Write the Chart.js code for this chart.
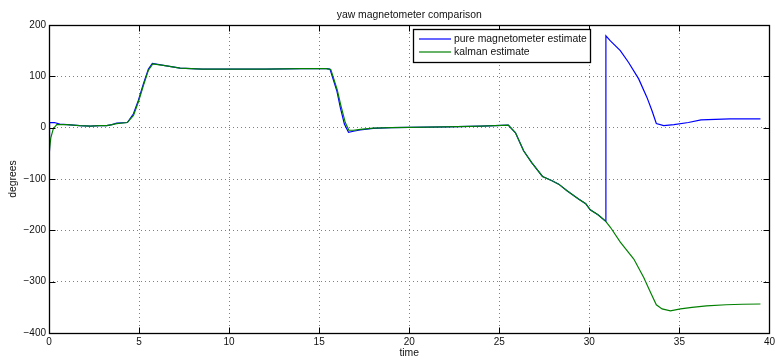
<!DOCTYPE html>
<html>
<head>
<meta charset="utf-8">
<script src="https://cdn.jsdelivr.net/npm/chart.js@4/dist/chart.umd.min.js"></script>
<style>
  html, body { margin: 0; padding: 0; background: #fff; }
  canvas { display: block; }
</style>
</head>
<body>
<canvas id="c" width="778" height="364"></canvas>
<script>
// Yaw heading from the raw magnetometer (wraps at 180) versus the Kalman filter output
const magTime = [0, 0.03, 0.3, 0.6, 1.0, 1.7, 2.3, 2.8, 3.2, 3.5, 3.76, 4.35, 4.69, 4.96, 5.24, 5.52, 5.74, 6.44, 7.28, 8.5, 10, 12, 14, 15.4, 15.6, 15.98, 16.17, 16.4, 16.63, 16.9, 17.28, 18.0, 19.0, 20.0, 22.0, 24.0, 25.5, 25.9, 26.35, 26.8, 27.4, 27.9, 28.3, 28.76, 29.4, 29.8, 30.05, 30.5, 30.9, 30.92, 31.17, 31.72, 32.18, 32.74, 33.2, 33.48, 33.72, 34.13, 34.7, 35.5, 36.2, 37.0, 37.8, 38.5, 39.5];
const magYaw  = [-45, 10, 10, 7, 6, 4, 3, 4, 4, 6, 9, 10, 27, 53, 85, 114, 125, 121, 116, 114, 114, 114, 115, 115, 114, 72, 40, 7, -9, -7, -4.5, -1.5, 0, 0.5, 1.5, 3, 5, -10, -45, -68, -95, -103, -110, -123, -139, -148, -160, -170, -182, 179, 169, 150, 127, 95, 59, 33, 8, 4, 6, 10, 15, 16, 17, 17, 17];

const kalmanTime = [0, 0.1, 0.24, 0.43, 1.0, 1.7, 2.3, 2.8, 3.2, 3.5, 3.76, 4.35, 4.69, 4.96, 5.24, 5.52, 5.76, 6.44, 7.28, 8.5, 10, 12, 14, 15.4, 15.65, 16.0, 16.2, 16.45, 16.65, 16.9, 17.28, 18.0, 19.0, 20.0, 22.0, 24.0, 25.5, 25.9, 26.35, 26.8, 27.4, 27.9, 28.3, 28.76, 29.4, 29.8, 30.05, 30.5, 30.9, 31.17, 31.72, 32.47, 33.02, 33.4, 33.72, 34.04, 34.5, 35.06, 35.7, 36.5, 37.6, 38.5, 39.5];
const kalmanYaw  = [-51, -20, -2, 6, 6, 4, 3, 4, 4, 6, 8, 10, 24, 50, 82, 112, 124, 121, 116, 114, 114, 114, 115, 115, 113, 74, 44, 10, -5, -5, -3.5, -1, 0, 0.5, 1.5, 3, 5, -10, -45, -68, -95, -103, -110, -123, -139, -148, -160, -170, -182, -194, -223, -256, -292, -321, -345, -353, -357, -353, -350, -347, -345, -344, -343.5];

const seriesNames = ['pure magnetometer estimate', 'kalman estimate'];
const xTicks = [0, 5, 10, 15, 20, 25, 30, 35, 40];
const yTicks = [-400, -300, -200, -100, 0, 100, 200];

const chartTitle = 'yaw magnetometer comparison';
const xTitle = 'time';
const yTitle = 'degrees';

const FONT = '"Liberation Sans", Arial, Helvetica, sans-serif';
const BLUE = '#0000ff';
const GREEN = '#008000';

const toPoints = (xs, ys) => xs.map((x, i) => ({ x: x, y: ys[i] }));

// Frame, inward ticks, title, axis titles and the boxed legend
const matlabAxes = {
  id: 'matlabAxes',
  afterDraw(chart) {
    const { ctx, chartArea: a, scales } = chart;
    const xs = scales.x, ys = scales.y;
    const L = Math.round(a.left) + 0.5, R = Math.round(a.right) + 0.5;
    const T = Math.round(a.top) + 0.5, B = Math.round(a.bottom) + 0.5;
    const tl = 6;
    ctx.save();
    ctx.strokeStyle = '#000';
    ctx.lineWidth = 1;
    ctx.beginPath();
    xTicks.forEach(v => {
      const px = Math.round(xs.getPixelForValue(v)) + 0.5;
      ctx.moveTo(px, B); ctx.lineTo(px, B - tl);
      ctx.moveTo(px, T); ctx.lineTo(px, T + tl);
    });
    yTicks.forEach(v => {
      const py = Math.round(ys.getPixelForValue(v)) + 0.5;
      ctx.moveTo(L, py); ctx.lineTo(L + tl, py);
      ctx.moveTo(R, py); ctx.lineTo(R - tl, py);
    });
    ctx.stroke();
    ctx.lineWidth = 1.3;
    ctx.strokeRect(L, T, R - L, B - T);
    ctx.lineWidth = 1;

    ctx.fillStyle = '#111';
    ctx.font = '10.4px ' + FONT;
    ctx.textAlign = 'center';
    ctx.textBaseline = 'middle';
    ctx.fillText(chartTitle, (a.left + a.right) / 2, 15);
    ctx.fillText(xTitle, (a.left + a.right) / 2, 353);
    ctx.save();
    ctx.translate(13, (a.top + a.bottom) / 2);
    ctx.rotate(-Math.PI / 2);
    ctx.fillText(yTitle, 0, 0);
    ctx.restore();

    // legend box
    const bx = 413.5, by = 29.5, bw = 177, bh = 33;
    ctx.fillStyle = '#fff';
    ctx.fillRect(bx, by, bw, bh);
    ctx.strokeStyle = '#000';
    ctx.lineWidth = 1.3;
    ctx.strokeRect(bx, by, bw, bh);
    const rows = [[BLUE, seriesNames[0], 39], [GREEN, seriesNames[1], 52]];
    rows.forEach(([col, label, y]) => {
      ctx.strokeStyle = col;
      ctx.lineWidth = 1.2;
      ctx.beginPath();
      ctx.moveTo(419, y); ctx.lineTo(451, y);
      ctx.stroke();
      ctx.fillStyle = '#111';
      ctx.textAlign = 'left';
      ctx.fillText(label, 454, y);
    });
    ctx.restore();
  }
};

new Chart(document.getElementById('c'), {
  type: 'line',
  data: {
    datasets: [
      { label: seriesNames[0], data: toPoints(magTime, magYaw), borderColor: BLUE, borderWidth: 1.2, pointRadius: 0, tension: 0, order: 2 },
      { label: seriesNames[1], data: toPoints(kalmanTime, kalmanYaw), borderColor: GREEN, borderWidth: 1.2, pointRadius: 0, tension: 0, order: 1 }
    ]
  },
  options: {
    responsive: false,
    devicePixelRatio: 1,
    animation: false,
    layout: { padding: { left: 0, right: 8, top: 25, bottom: 0 } },
    plugins: { legend: { display: false }, title: { display: false }, tooltip: { enabled: false } },
    scales: {
      x: {
        type: 'linear',
        min: 0, max: 40,
        afterFit: s => { s.height = 31; },
        afterBuildTicks: s => { s.ticks = xTicks.map(v => ({ value: v })); },
        ticks: { color: '#111', font: { family: FONT, size: 10 }, padding: 3, maxRotation: 0 },
        grid: { color: '#808080', drawTicks: false, lineWidth: 1 },
        border: { display: false, dash: [1, 3] }
      },
      y: {
        type: 'linear',
        min: -400, max: 200,
        afterFit: s => { s.width = 49; },
        afterBuildTicks: s => { s.ticks = yTicks.map(v => ({ value: v })); },
        ticks: {
          color: '#111', font: { family: FONT, size: 10 }, padding: 3,
          callback: v => String(v).replace('-', '\u2212')
        },
        grid: { color: '#808080', drawTicks: false, lineWidth: 1 },
        border: { display: false, dash: [1, 3] }
      }
    }
  },
  plugins: [matlabAxes]
});
</script>
</body>
</html>
